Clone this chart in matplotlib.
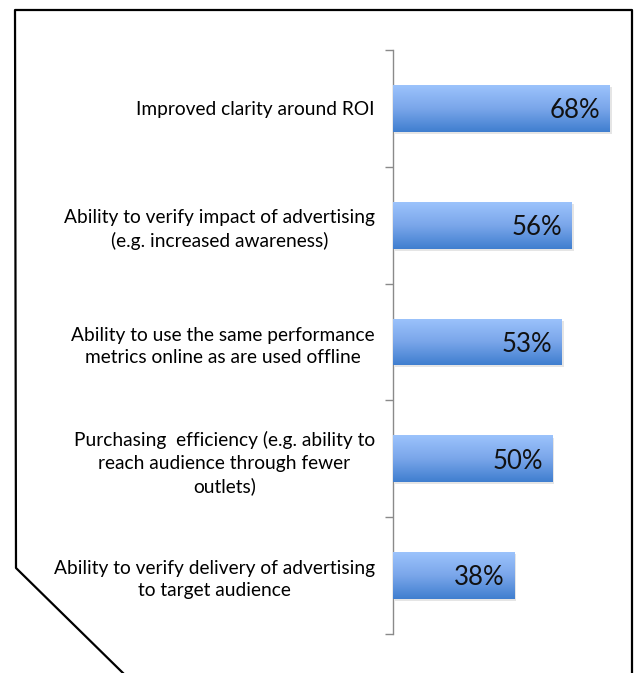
import numpy as np
import matplotlib.pyplot as plt
from matplotlib.lines import Line2D
from matplotlib import patheffects as pe

categories = [
    "Improved clarity around ROI",
    "Ability to verify impact of advertising\n(e.g. increased awareness)",
    "Ability to use the same performance\nmetrics online as are used offline",
    "Purchasing  efficiency (e.g. ability to\nreach audience through fewer\noutlets)",
    "Ability to verify delivery of advertising\nto target audience",
]
values = [68, 56, 53, 50, 38]

W, H = 636, 673
plt.rcParams["font.family"] = ["Lato", "DejaVu Sans"]

fig = plt.figure(figsize=(W / 100, H / 100), dpi=100)


def fx(px):
    return px / W


def fy(py):
    return (H - py) / H


# plot area, laid out in pixels
ax = fig.add_axes([fx(393), fy(634), fx(632) - fx(393), fy(50) - fy(634)])

grad = np.linspace(0, 1, 256).reshape(-1, 1)
cmap = plt.matplotlib.colors.LinearSegmentedColormap.from_list(
    "bar", ["#9cc3fc", "#7aa6ea", "#3f7ecf"])

bar_h = 0.4
for i, v in enumerate(values):
    bar = ax.barh(i, v, height=bar_h, color="#6c9be0", zorder=2)[0]
    bar.set_path_effects([pe.SimplePatchShadow(offset=(1.5, -1.5), alpha=0.15,
                                               shadow_rgbFace="#555555"),
                          pe.Normal()])
    im = ax.imshow(grad, cmap=cmap, aspect="auto", zorder=3,
                   extent=(0, v, i + bar_h / 2, i - bar_h / 2))
    im.set_clip_path(bar)
    ax.text(v - 3.0, i + 0.02, f"{v}%", ha="right", va="center",
            fontsize=18.5, color="#111111", zorder=4)

ax.set_xlim(0, 75)
ax.set_ylim(len(values) - 0.5, -0.5)

for s in ["top", "right", "bottom"]:
    ax.spines[s].set_visible(False)
ax.spines["left"].set_color("#8a8a8a")
ax.spines["left"].set_linewidth(1)
ax.set_xticks([])

ax.set_yticks(range(len(values)))
ax.set_yticklabels(categories, fontsize=13.8, multialignment="center",
                   linespacing=1.38)
ax.tick_params(axis="y", which="major", length=0, pad=13)
ax.set_yticks(np.arange(-0.5, len(values), 1), minor=True)
ax.tick_params(axis="y", which="minor", length=6, color="#8a8a8a", width=1)

# outline with clipped lower-left corner
pts = [(125, 675), (16, 568), (15, 10), (632, 10), (632, 675)]
fig.add_artist(Line2D([fx(p[0]) for p in pts], [fy(p[1]) for p in pts],
                      transform=fig.transFigure, color="black", lw=1.6))

fig.savefig("out.png", dpi=100)
